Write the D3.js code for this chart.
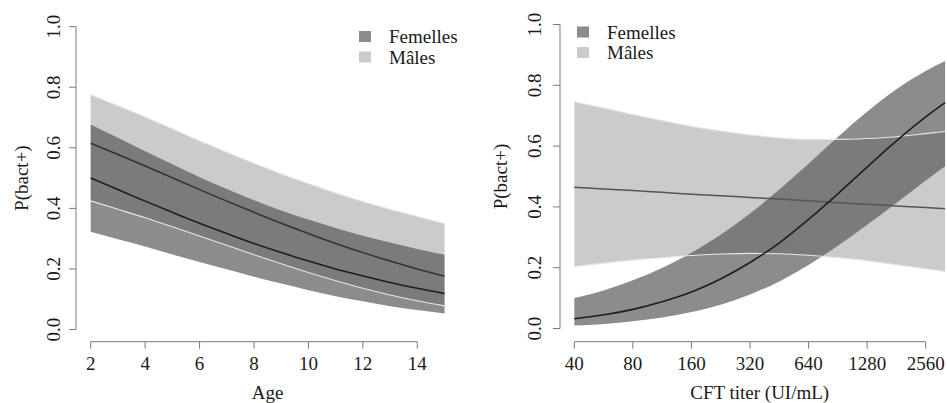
<!DOCTYPE html>
<html><head><meta charset="utf-8">
<script src="https://cdn.jsdelivr.net/npm/d3@7"></script>
<style>body{margin:0;background:#fff}svg{display:block}text{font-family:"Liberation Serif","Times New Roman",serif;fill:#1a1a1a}</style>
</head><body><svg id="c" width="947" height="403"></svg>
<script>
// ---- Left panel: Age ----
const ages = [2,3,4,5,6,7,8,9,10,11,12,13,14,15];
const ageFemMean  = [0.500,0.462,0.424,0.387,0.351,0.317,0.284,0.254,0.226,0.200,0.177,0.155,0.136,0.119];
const ageFemUpper = [0.677,0.633,0.589,0.546,0.503,0.464,0.427,0.393,0.363,0.335,0.310,0.287,0.266,0.247];
const ageFemLower = [0.323,0.298,0.274,0.248,0.223,0.199,0.174,0.152,0.130,0.110,0.093,0.077,0.064,0.053];
const ageMalMean  = [0.615,0.578,0.540,0.501,0.462,0.424,0.387,0.351,0.317,0.284,0.254,0.226,0.200,0.176];
const ageMalUpper = [0.775,0.739,0.702,0.663,0.623,0.585,0.549,0.514,0.482,0.451,0.423,0.397,0.373,0.350];
const ageMalLower = [0.425,0.397,0.369,0.339,0.309,0.278,0.247,0.217,0.188,0.161,0.136,0.114,0.095,0.078];
const ageTicks = [2,4,6,8,10,12,14];

// ---- Right panel: CFT titer ----
const titers = [40,57,80,113,160,226,320,453,640,905,1280,1810,2560,3220];
const cftFemMean  = [0.032,0.045,0.063,0.088,0.120,0.163,0.217,0.282,0.359,0.443,0.531,0.617,0.696,0.743];
const cftFemUpper = [0.100,0.126,0.159,0.199,0.249,0.308,0.378,0.457,0.542,0.630,0.713,0.787,0.847,0.880];
const cftFemLower = [0.010,0.015,0.024,0.036,0.054,0.078,0.112,0.155,0.209,0.272,0.341,0.413,0.487,0.534];
const cftMalMean  = [0.465,0.459,0.454,0.448,0.442,0.437,0.431,0.426,0.420,0.414,0.409,0.403,0.398,0.394];
const cftMalUpper = [0.746,0.725,0.704,0.684,0.665,0.650,0.637,0.627,0.622,0.622,0.625,0.631,0.641,0.648];
const cftMalLower = [0.204,0.215,0.225,0.233,0.240,0.245,0.247,0.246,0.241,0.233,0.223,0.210,0.196,0.187];
const cftTicks = [40,80,160,320,640,1280,2560];

const yTicks = [0,0.2,0.4,0.6,0.8,1.0];
const legendLabels = ["Femelles","Mâles"];
const yLabel = "P(bact+)";

const svg = d3.select("#c");
const AX = "#7a7a7a";
const C_MAL = "#cbcbcb", C_FEM = "rgba(84,84,84,0.673)";

function panel(o){
  const g = svg.append("g");
  const {x, y, xs} = o;
  const pts = (a)=> xs.map((v,i)=>[v,a[i]]);
  const area = d3.area().x(d=>x(d[0])).y0(d=>y(d[1])).y1(d=>y(d[2])).curve(d3.curveMonotoneX);
  const line = d3.line().x(d=>x(d[0])).y(d=>y(d[1])).curve(d3.curveMonotoneX);
  const band = (lo,hi)=> xs.map((v,i)=>[v,lo[i],hi[i]]);
  g.append("path").attr("d",area(band(o.mLo,o.mUp))).attr("fill",C_MAL);
  g.append("path").attr("d",area(band(o.fLo,o.fUp))).attr("fill",C_FEM);
  g.append("path").attr("d",line(pts(o.mUp))).attr("fill","none").attr("stroke","#e6e6e6").attr("stroke-width",1.1);
  g.append("path").attr("d",line(pts(o.mLo))).attr("fill","none").attr("stroke","#e6e6e6").attr("stroke-width",1.1);
  g.append("path").attr("d",line(pts(o.mMean))).attr("fill","none").attr("stroke",o.mCol).attr("stroke-width",1.5);
  g.append("path").attr("d",line(pts(o.fMean))).attr("fill","none").attr("stroke","#1e1e1e").attr("stroke-width",1.6);

  // y axis
  g.append("line").attr("x1",o.yAxisX).attr("x2",o.yAxisX).attr("y1",y(0)).attr("y2",y(1)).attr("stroke",AX);
  yTicks.forEach(t=>{
    g.append("line").attr("x1",o.yAxisX).attr("x2",o.yAxisX-7).attr("y1",y(t)).attr("y2",y(t)).attr("stroke",AX);
    g.append("text").attr("transform",`translate(${o.yLabX},${y(t)}) rotate(-90)`)
      .attr("text-anchor","middle").attr("font-size",19).text(t.toFixed(1));
  });
  g.append("text").attr("transform",`translate(${o.yTitleX},${(y(0)+y(1))/2}) rotate(-90)`)
    .attr("text-anchor","middle").attr("font-size",19).text(yLabel);

  // x axis
  const xAx = g.append("g").attr("transform",`translate(0,${o.xAxisY})`);
  xAx.append("line").attr("x1",x(o.ticks[0])).attr("x2",x(o.ticks[o.ticks.length-1])).attr("stroke",AX);
  o.ticks.forEach(t=>{
    xAx.append("line").attr("x1",x(t)).attr("x2",x(t)).attr("y1",0).attr("y2",7).attr("stroke",AX);
    xAx.append("text").attr("x",x(t)).attr("y",28).attr("text-anchor","middle").attr("font-size",19).text(t);
  });
  g.append("text").attr("x",(x(xs[0])+x(xs[xs.length-1]))/2).attr("y",399)
    .attr("text-anchor","middle").attr("font-size",19).text(o.xTitle);

  // legend
  const cols = ["#8c8c8c","#cbcbcb"];
  legendLabels.forEach((lab,i)=>{
    const cy = o.legY + i*20.5;
    g.append("rect").attr("x",o.legX).attr("y",cy-5.5).attr("width",12).attr("height",11).attr("fill",cols[i]);
    g.append("text").attr("x",o.legX+30).attr("y",cy+6.5).attr("font-size",19).text(lab);
  });
}

panel({
  xs: ages,
  x: d3.scaleLinear().domain([2,14]).range([90.7,417.3]),
  y: d3.scaleLinear().domain([0,1]).range([329.5,26.7]),
  fMean:ageFemMean,fUp:ageFemUpper,fLo:ageFemLower,
  mMean:ageMalMean,mUp:ageMalUpper,mLo:ageMalLower,
  mCol:"#333",
  ticks: ageTicks, yAxisX:76, yLabX:59.5, yTitleX:28, xAxisY:341.7,
  xTitle:"Age", legX:359, legY:36.5
});
panel({
  xs: titers,
  x: d3.scaleLog().base(2).domain([40,2560]).range([574.3,925.7]),
  y: d3.scaleLinear().domain([0,1]).range([328.5,24.5]),
  fMean:cftFemMean,fUp:cftFemUpper,fLo:cftFemLower,
  mMean:cftMalMean,mUp:cftMalUpper,mLo:cftMalLower,
  mCol:"#555",
  ticks: cftTicks, yAxisX:560, yLabX:540.5, yTitleX:506.5, xAxisY:341.7,
  xTitle:"CFT titer (UI/mL)", legX:577, legY:32
});
</script></body></html>
